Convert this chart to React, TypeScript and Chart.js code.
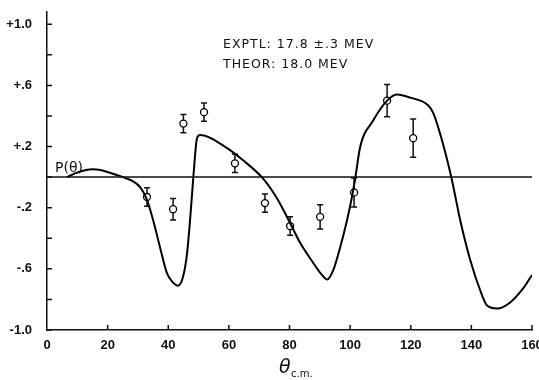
import React, { useEffect, useRef } from "react";
import { Chart, registerables } from "chart.js";

Chart.register(...registerables);

// Theoretical curve P(theta), 18.0 MeV
const theoryTheta = [6.6, 10, 14.9, 18, 22, 25.1, 30.7, 33.0, 35.0, 37.3, 39.6, 41.6, 43.2, 44.9, 46.2, 47.2, 48.2, 49.5, 50.5, 59.4, 64.7, 71.3, 75.9, 80.2, 83.5, 87.8, 90.7, 92.4, 94.4, 96.7, 99.0, 100.6, 101.6, 103.3, 107.6, 112.2, 115.5, 119.8, 125.7, 127.4, 130.6, 133.6, 136.3, 139.6, 142.9, 145.2, 148.5, 152.8, 157.0, 160];
const theoryP = [0, 0.03, 0.052, 0.045, 0.02, 0, -0.065, -0.15, -0.28, -0.46, -0.63, -0.69, -0.71, -0.65, -0.5, -0.28, -0.02, 0.255, 0.275, 0.19, 0.11, -0.01, -0.14, -0.3, -0.43, -0.56, -0.64, -0.67, -0.61, -0.46, -0.28, -0.13, -0.02, 0.196, 0.37, 0.5, 0.54, 0.52, 0.47, 0.42, 0.22, -0.02, -0.28, -0.54, -0.74, -0.84, -0.86, -0.82, -0.73, -0.64];

// Experimental points, 17.8 +- .3 MeV
const exptTheta = [33.0, 41.6, 45.0, 51.8, 62.0, 71.9, 80.2, 90.1, 101.3, 112.2, 120.8];
const exptP = [-0.13, -0.21, 0.35, 0.425, 0.09, -0.17, -0.32, -0.26, -0.1, 0.5, 0.255];
const exptErr = [0.06, 0.07, 0.06, 0.06, 0.06, 0.06, 0.06, 0.08, 0.095, 0.105, 0.125];

// Axes
const xTickValues = [0, 20, 40, 60, 80, 100, 120, 140, 160];
const yTickValues = [-1.0, -0.8, -0.6, -0.4, -0.2, 0, 0.2, 0.4, 0.6, 0.8, 1.0];
const yTickLabels: Record<string, string> = {
  "1": "+1.0",
  "0.6": "+.6",
  "0.2": "+.2",
  "-0.2": "-.2",
  "-0.6": "-.6",
  "-1": "-1.0",
};
const annotationLines = ["EXPTL: 17.8 \u00b1.3 MEV", "THEOR: 18.0 MEV"];
const curveLabel = "P(\u03b8)";
const xTitleMain = "\u03b8";
const xTitleSub = "c.m.";

const INK = "#111";
const FONT = "DejaVu Sans";
const TICK_FONT = "Liberation Sans";

const errorBarPlugin = {
  id: "errorBars",
  beforeDatasetDraw(chart: any, args: any) {
    if (args.index !== 2) return;
    const { ctx, scales } = chart;
    const x = scales.x;
    const y = scales.y;
    ctx.save();
    ctx.strokeStyle = INK;
    ctx.lineWidth = 1.5;
    for (let i = 0; i < exptTheta.length; i++) {
      const px = x.getPixelForValue(exptTheta[i]);
      const top = y.getPixelForValue(exptP[i] + exptErr[i]);
      const bot = y.getPixelForValue(exptP[i] - exptErr[i]);
      ctx.beginPath();
      ctx.moveTo(px, top);
      ctx.lineTo(px, bot);
      ctx.moveTo(px - 3, top);
      ctx.lineTo(px + 3, top);
      ctx.moveTo(px - 3, bot);
      ctx.lineTo(px + 3, bot);
      ctx.stroke();
    }
    ctx.restore();
  },
};

const decorPlugin = {
  id: "decor",
  afterDraw(chart: any) {
    const { ctx, scales } = chart;
    const x = scales.x;
    const y = scales.y;
    const area = chart.chartArea;
    ctx.save();
    ctx.strokeStyle = INK;
    ctx.lineWidth = 1.5;
    // inward tick marks
    ctx.beginPath();
    for (const v of yTickValues) {
      const py = y.getPixelForValue(v);
      ctx.moveTo(area.left, py);
      ctx.lineTo(area.left + 5, py);
    }
    for (const v of xTickValues) {
      if (v === 0) continue;
      const px = x.getPixelForValue(v);
      ctx.moveTo(px, area.bottom);
      ctx.lineTo(px, area.bottom - 5);
    }
    ctx.stroke();

    ctx.fillStyle = INK;
    ctx.textBaseline = "alphabetic";
    ctx.textAlign = "left";
    // annotation
    ctx.font = `12.5px "${FONT}"`;
    (ctx as any).letterSpacing = "1px";
    ctx.fillText(annotationLines[0], 223, 48);
    ctx.fillText(annotationLines[1], 223, 68);
    (ctx as any).letterSpacing = "0px";
    // curve label
    ctx.font = `14px "${FONT}"`;
    ctx.fillText(curveLabel, 55, 172);
    // x title
    ctx.font = `italic 19px "${FONT}"`;
    ctx.fillText(xTitleMain, 279, 373);
    ctx.font = `10px "${FONT}"`;
    ctx.fillText(xTitleSub, 291, 377);
    ctx.restore();
  },
};

export default function App() {
  const canvasRef = useRef<HTMLCanvasElement | null>(null);

  useEffect(() => {
    const canvas = canvasRef.current;
    if (!canvas) return;
    const theory = theoryTheta.map((t, i) => ({ x: t, y: theoryP[i] }));
    const expt = exptTheta.map((t, i) => ({ x: t, y: exptP[i] }));
    const zeroLine = [
      { x: 0, y: 0 },
      { x: 160, y: 0 },
    ];
    const chart = new Chart(canvas, {
      type: "scatter",
      data: {
        datasets: [
          {
            type: "line",
            data: zeroLine,
            borderColor: INK,
            borderWidth: 1.5,
            pointRadius: 0,
          } as any,
          {
            type: "line",
            data: theory,
            borderColor: "#000",
            borderWidth: 2,
            pointRadius: 0,
            cubicInterpolationMode: "monotone",
          } as any,
          {
            type: "scatter",
            data: expt,
            pointRadius: 3.5,
            pointBackgroundColor: "#fff",
            pointBorderColor: "#000",
            pointBorderWidth: 1.3,
          } as any,
        ],
      },
      options: {
        animation: false,
        responsive: false,
        devicePixelRatio: 1,
        layout: { padding: { top: 12, right: 7, left: 0, bottom: 0 } },
        plugins: {
          legend: { display: false },
          tooltip: { enabled: false },
        },
        scales: {
          x: {
            type: "linear",
            min: 0,
            max: 160,
            afterBuildTicks: (scale: any) => {
              scale.ticks = xTickValues.map((v) => ({ value: v }));
            },
            afterFit: (scale: any) => {
              scale.height = 50;
              scale.paddingLeft = 0;
              scale.paddingRight = 0;
            },
            ticks: {
              color: INK,
              font: { family: TICK_FONT, size: 13, weight: "bold" },
              padding: 8,
              maxRotation: 0,
              autoSkip: false,
              callback: (v: any) => String(v),
            },
            grid: { drawOnChartArea: false, drawTicks: false },
            border: { color: INK, width: 1.5 },
          },
          y: {
            type: "linear",
            min: -1,
            max: 1.08,
            afterBuildTicks: (scale: any) => {
              scale.ticks = yTickValues.map((v) => ({ value: v }));
            },
            afterFit: (scale: any) => {
              scale.width = 47;
              scale.paddingTop = 0;
              scale.paddingBottom = 0;
            },
            ticks: {
              color: INK,
              font: { family: TICK_FONT, size: 13, weight: "bold" },
              padding: 15,
              autoSkip: false,
              callback: (v: any) => {
                const key = String(Math.round(Number(v) * 10) / 10);
                return yTickLabels[key] ?? "";
              },
            },
            grid: { drawOnChartArea: false, drawTicks: false },
            border: { color: INK, width: 1.5 },
          },
        },
      },
      plugins: [errorBarPlugin, decorPlugin],
    });
    return () => chart.destroy();
  }, []);

  return (
    <div
      style={{
        position: "fixed",
        left: 0,
        top: 0,
        width: 539,
        height: 380,
        background: "#fff",
      }}
    >
      <canvas
        ref={canvasRef}
        width={539}
        height={380}
        style={{ display: "block", width: 539, height: 380 }}
      />
    </div>
  );
}
